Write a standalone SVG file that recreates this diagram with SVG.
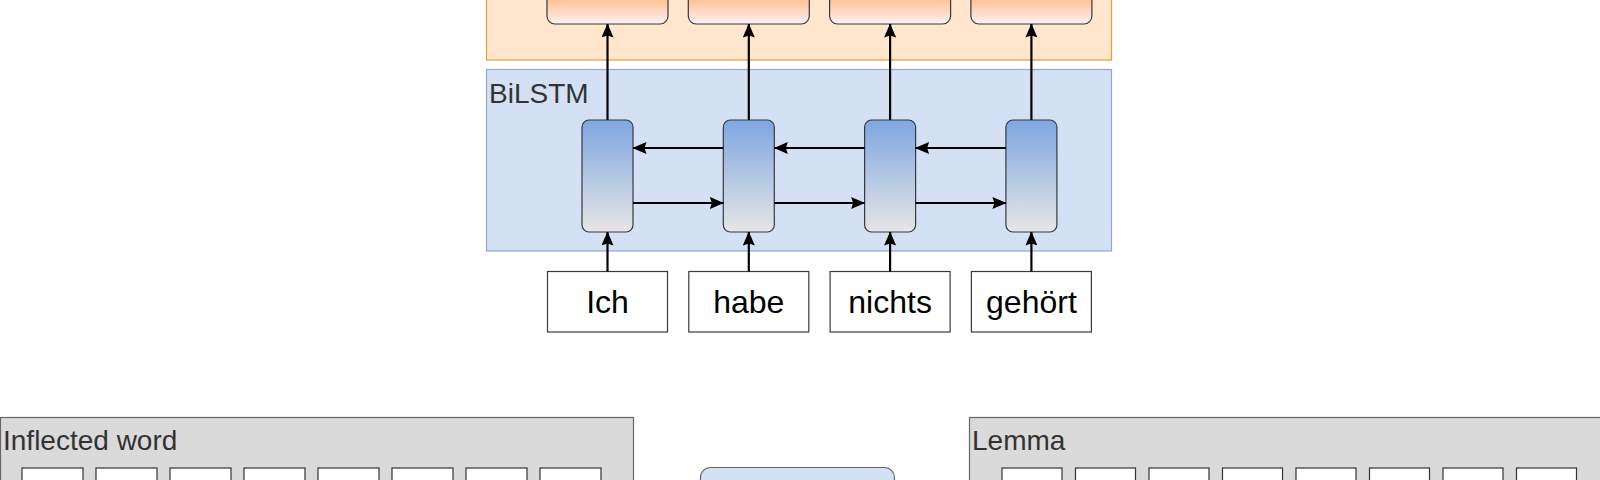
<svg xmlns="http://www.w3.org/2000/svg" width="1600" height="480" viewBox="0 0 1600 480">
<defs>
<linearGradient id="gOrange" gradientUnits="userSpaceOnUse" x1="0" y1="-36" x2="0" y2="24">
<stop offset="0" stop-color="#FF9A4D"/>
<stop offset="0.55" stop-color="#FFBC8A"/>
<stop offset="1" stop-color="#FBF2F4"/>
</linearGradient>
<linearGradient id="gCell" x1="0" y1="0" x2="0" y2="1">
<stop offset="0" stop-color="#7EA6E0"/>
<stop offset="1" stop-color="#E6E6E6"/>
</linearGradient>
<marker id="arr" markerUnits="userSpaceOnUse" markerWidth="14" markerHeight="12" refX="13.5" refY="6" orient="auto" viewBox="0 0 14 12">
<path d="M0,0 L14,6 L0,12 L2,6 z" fill="#000"/>
</marker>
</defs>
<style>
.lbl{font-family:"Liberation Sans",Arial,sans-serif;font-size:28px;fill:#333}
.word{font-family:"Liberation Sans",Arial,sans-serif;font-size:32px;fill:#000;text-anchor:middle}
.obox{fill:url(#gOrange);stroke:#36393D;stroke-width:1.2}
.cell{fill:url(#gCell);stroke:#36393D;stroke-width:1.2}
.wbox{fill:#fff;stroke:#3A3A3A;stroke-width:1.2}
.sbox{fill:#fff;stroke:#333;stroke-width:1.2}
.cont{fill:#DADADA;stroke:#666;stroke-width:1.2}
.conn line{stroke:#000;stroke-width:2.2;marker-end:url(#arr)}
</style>

<g id="output-layer">
<rect x="486.5" y="-20" width="625" height="80" fill="#FFE6CC" stroke="#D6A53A" stroke-width="1.2"/>
</g>
<g id="out1"><rect class="obox" x="547" y="-36" width="121" height="60" rx="8"/></g>
<g id="out2"><rect class="obox" x="688.3" y="-36" width="121" height="60" rx="8"/></g>
<g id="out3"><rect class="obox" x="829.6" y="-36" width="121" height="60" rx="8"/></g>
<g id="out4"><rect class="obox" x="970.9" y="-36" width="121" height="60" rx="8"/></g>

<g id="bilstm">
<rect x="486.5" y="69.5" width="625" height="181.5" fill="#D4E1F5" stroke="#8FA9D3" stroke-width="1.2"/>
<text class="lbl" x="489" y="103">BiLSTM</text>
</g>
<g id="cell1"><rect class="cell" x="582" y="120" width="51" height="112" rx="7"/></g>
<g id="cell2"><rect class="cell" x="723.3" y="120" width="51" height="112" rx="7"/></g>
<g id="cell3"><rect class="cell" x="864.6" y="120" width="51" height="112" rx="7"/></g>
<g id="cell4"><rect class="cell" x="1005.9" y="120" width="51" height="112" rx="7"/></g>

<g id="w1"><rect class="wbox" x="547.5" y="271.5" width="120" height="60.5"/><text class="word" x="607.5" y="313">Ich</text></g>
<g id="w2"><rect class="wbox" x="688.8" y="271.5" width="120" height="60.5"/><text class="word" x="748.8" y="313">habe</text></g>
<g id="w3"><rect class="wbox" x="830.1" y="271.5" width="120" height="60.5"/><text class="word" x="890.1" y="313">nichts</text></g>
<g id="w4"><rect class="wbox" x="971.4" y="271.5" width="120" height="60.5"/><text class="word" x="1031.4" y="313">gehört</text></g>

<g id="inflected">
<rect class="cont" x="0.5" y="417.5" width="633" height="90"/>
<text class="lbl" x="3" y="450">Inflected word</text>
<rect class="sbox" x="22" y="468" width="61" height="30"/>
<rect class="sbox" x="96" y="468" width="61" height="30"/>
<rect class="sbox" x="170" y="468" width="61" height="30"/>
<rect class="sbox" x="244" y="468" width="61" height="30"/>
<rect class="sbox" x="318" y="468" width="61" height="30"/>
<rect class="sbox" x="392" y="468" width="61" height="30"/>
<rect class="sbox" x="466" y="468" width="61" height="30"/>
<rect class="sbox" x="540" y="468" width="61" height="30"/>
</g>

<g id="middle">
<rect x="700.5" y="467.5" width="194" height="40" rx="10" fill="#D4E1F5" stroke="#666" stroke-width="1.2"/>
</g>

<g id="lemma">
<rect class="cont" x="969.5" y="417.5" width="640" height="90"/>
<text class="lbl" x="972" y="450">Lemma</text>
<rect class="sbox" x="1002" y="468" width="60" height="30"/>
<rect class="sbox" x="1075.5" y="468" width="60" height="30"/>
<rect class="sbox" x="1149" y="468" width="60" height="30"/>
<rect class="sbox" x="1222.5" y="468" width="60" height="30"/>
<rect class="sbox" x="1296" y="468" width="60" height="30"/>
<rect class="sbox" x="1369.5" y="468" width="60" height="30"/>
<rect class="sbox" x="1443" y="468" width="60" height="30"/>
<rect class="sbox" x="1516.5" y="468" width="60" height="30"/>
</g>

<g id="connectors" class="conn">
<line x1="607.5" y1="271.5" x2="607.5" y2="232"/>
<line x1="748.8" y1="271.5" x2="748.8" y2="232"/>
<line x1="890.1" y1="271.5" x2="890.1" y2="232"/>
<line x1="1031.4" y1="271.5" x2="1031.4" y2="232"/>
<line x1="607.5" y1="120" x2="607.5" y2="24"/>
<line x1="748.8" y1="120" x2="748.8" y2="24"/>
<line x1="890.1" y1="120" x2="890.1" y2="24"/>
<line x1="1031.4" y1="120" x2="1031.4" y2="24"/>
<line x1="723.3" y1="148" x2="633" y2="148"/>
<line x1="864.6" y1="148" x2="774.3" y2="148"/>
<line x1="1005.9" y1="148" x2="915.6" y2="148"/>
<line x1="633" y1="203" x2="723.3" y2="203"/>
<line x1="774.3" y1="203" x2="864.6" y2="203"/>
<line x1="915.6" y1="203" x2="1005.9" y2="203"/>
</g>
</svg>
